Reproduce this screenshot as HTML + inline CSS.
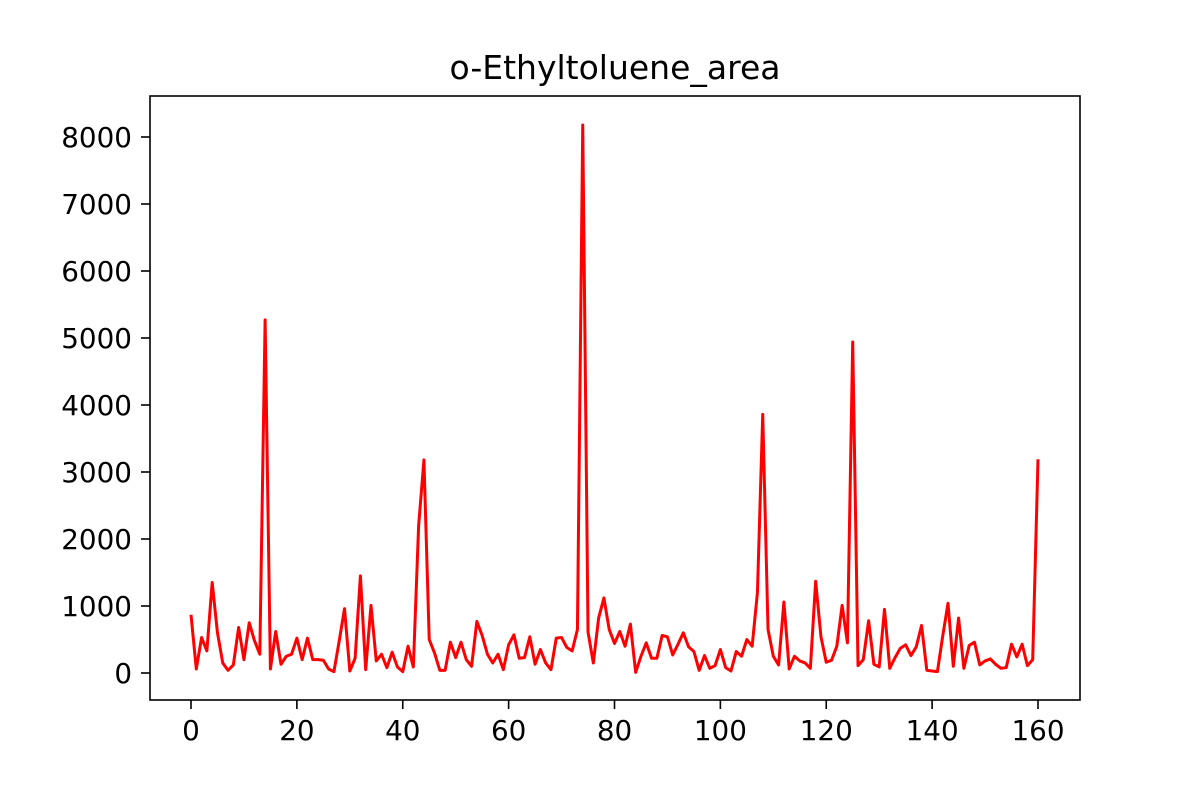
<!DOCTYPE html>
<html>
<head>
<meta charset="utf-8">
<style>
  html, body { margin: 0; padding: 0; background: #fff; }
  svg { display: block; }
  text { font-family: "DejaVu Sans", "Liberation Sans", sans-serif; fill: #000; }
</style>
</head>
<body>
<svg id="chart" width="1200" height="800" viewBox="0 0 1200 800" xmlns="http://www.w3.org/2000/svg">
  <rect x="0" y="0" width="1200" height="800" fill="#fff"/>
  <text x="615" y="79" font-size="33" text-anchor="middle">o-Ethyltoluene_area</text>
  <g id="xticks"></g>
  <g id="yticks"></g>
  <path id="series" fill="none" stroke="#ff0000" stroke-width="3" stroke-linejoin="round"/>
  <rect x="150" y="96" width="930" height="604" fill="none" stroke="#000" stroke-width="1.6"/>
</svg>
<script>
const values = [870,60,530,330,1350,600,150,40,120,680,200,750,480,280,5270,60,620,130,250,280,
520,200,520,200,200,190,60,20,480,960,30,220,1450,50,1010,180,280,80,310,90,
20,400,90,2200,3180,500,300,40,40,460,230,460,200,100,770,560,280,150,280,50,
420,570,220,230,540,130,350,150,50,520,530,380,330,650,8180,610,150,820,1120,650,
440,620,400,730,10,250,450,220,220,560,540,270,430,600,390,320,40,260,70,110,
350,80,30,320,250,500,400,1200,3860,650,250,120,1060,60,250,180,150,70,1370,540,
160,190,400,1010,450,4940,110,200,780,130,90,950,70,230,370,420,260,390,710,40,
30,20,550,1040,100,820,70,410,460,120,180,210,130,70,80,430,240,430,110,200,3190];
const xTickLabels = [0,20,40,60,80,100,120,140,160];
const yTickLabels = [0,1000,2000,3000,4000,5000,6000,7000,8000];

const NS = "http://www.w3.org/2000/svg";
function xScale(v){ return 191 + (v - 0) * (1038 - 191) / 160; }
function yScale(v){ return 673 - v * (673 - 137) / 8000; }

let d = "";
values.forEach((v, i) => { d += (i ? "L" : "M") + xScale(i).toFixed(2) + "," + yScale(v).toFixed(2); });
document.getElementById("series").setAttribute("d", d);

const xg = document.getElementById("xticks");
xTickLabels.forEach(t => {
  const x = xScale(t);
  const ln = document.createElementNS(NS, "line");
  ln.setAttribute("x1", x); ln.setAttribute("x2", x);
  ln.setAttribute("y1", 700); ln.setAttribute("y2", 709);
  ln.setAttribute("stroke", "#000"); ln.setAttribute("stroke-width", "1.6");
  
  
  xg.appendChild(ln);
  const tx = document.createElementNS(NS, "text");
  tx.setAttribute("x", x); tx.setAttribute("y", 740);
  tx.setAttribute("font-size", "27.8"); tx.setAttribute("text-anchor", "middle");
  tx.textContent = t;
  
  
  xg.appendChild(tx);
});

const yg = document.getElementById("yticks");
yTickLabels.forEach(t => {
  const y = yScale(t);
  const ln = document.createElementNS(NS, "line");
  ln.setAttribute("x1", 141); ln.setAttribute("x2", 150);
  ln.setAttribute("y1", y); ln.setAttribute("y2", y);
  ln.setAttribute("stroke", "#000"); ln.setAttribute("stroke-width", "1.6");
  
  
  yg.appendChild(ln);
  const tx = document.createElementNS(NS, "text");
  tx.setAttribute("x", 132); tx.setAttribute("y", y + 10.2);
  tx.setAttribute("font-size", "27.8"); tx.setAttribute("text-anchor", "end");
  tx.textContent = t;
  
  
  yg.appendChild(tx);
});
</script>
</body>
</html>
